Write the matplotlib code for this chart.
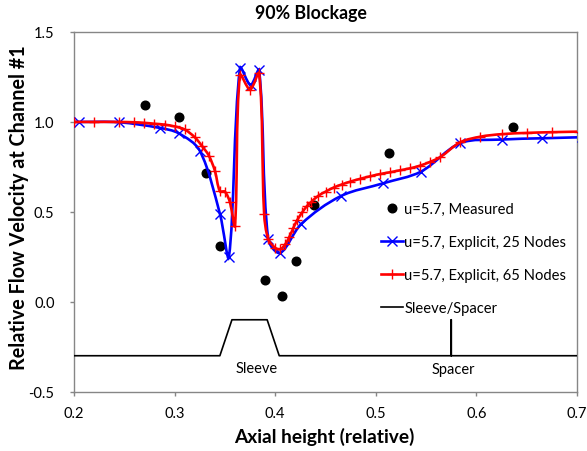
import matplotlib
matplotlib.use("Agg")
import matplotlib.pyplot as plt
import numpy as np
from matplotlib.path import Path
from matplotlib.patches import PathPatch
from matplotlib.lines import Line2D

plt.rcParams['font.family'] = ['Lato', 'DejaVu Sans']

# ---- data ----
meas_x = [0.2706, 0.3047, 0.3312, 0.3451, 0.3900, 0.4071, 0.4207, 0.4389, 0.5128, 0.6361]
meas_y = [1.096, 1.028, 0.718, 0.312, 0.120, 0.032, 0.229, 0.540, 0.826, 0.972]

n25_x = [0.195, 0.205, 0.245, 0.285, 0.304, 0.325, 0.345, 0.354, 0.365, 0.3755, 0.384,
         0.393, 0.405, 0.426, 0.465, 0.5075, 0.545, 0.584, 0.625, 0.665, 0.705]
n25_y = [1.000, 1.000, 0.998, 0.967, 0.937, 0.840, 0.490, 0.250, 1.300, 1.205, 1.288,
         0.349, 0.272, 0.433, 0.587, 0.659, 0.724, 0.882, 0.902, 0.909, 0.915]

n65_x = [0.200, 0.220, 0.245, 0.260, 0.270, 0.280, 0.290, 0.300, 0.310, 0.320, 0.327,
         0.334, 0.340, 0.345, 0.350, 0.355, 0.360, 0.365, 0.375, 0.384, 0.389, 0.393,
         0.400, 0.405, 0.410, 0.414, 0.418, 0.422, 0.427, 0.432, 0.436, 0.443, 0.450,
         0.458, 0.466, 0.474, 0.484, 0.494, 0.504, 0.514, 0.524, 0.534, 0.544, 0.554,
         0.564, 0.584, 0.604, 0.625, 0.650, 0.675, 0.702]
n65_y = [1.000, 1.000, 1.000, 0.998, 0.995, 0.990, 0.985, 0.975, 0.958, 0.915, 0.868,
         0.813, 0.729, 0.615, 0.612, 0.553, 0.423, 1.260, 1.180, 1.270, 0.490, 0.350,
         0.300, 0.292, 0.320, 0.360, 0.410, 0.455, 0.498, 0.535, 0.556, 0.590, 0.612,
         0.635, 0.652, 0.667, 0.683, 0.697, 0.710, 0.720, 0.731, 0.742, 0.757, 0.778,
         0.804, 0.887, 0.918, 0.932, 0.939, 0.943, 0.946]

sleeve_x = [0.2, 0.345, 0.357, 0.392, 0.404, 0.575, 0.575, 0.575, 0.7]
sleeve_y = [-0.3, -0.3, -0.1, -0.1, -0.3, -0.3, -0.1, -0.3, -0.3]

xticks = [0.2, 0.3, 0.4, 0.5, 0.6, 0.7]
yticks = [-0.5, 0.0, 0.5, 1.0, 1.5]

labels = ["u=5.7, Measured", "u=5.7, Explicit, 25 Nodes",
          "u=5.7, Explicit, 65 Nodes", "Sleeve/Spacer"]


def smooth_path(ax, xs, ys, t=1.0 / 3.0):
    """Excel-like smoothed line: Bezier segments with length-weighted tangents
    (computed in display space so that the curve does not overshoot)."""
    data = np.column_stack([xs, ys]).astype(float)
    disp = ax.transData.transform(data)
    n = len(disp)
    verts = [disp[0]]
    codes = [Path.MOVETO]
    seg = np.hypot(*np.diff(disp, axis=0).T)
    for i in range(n - 1):
        p1, p2 = disp[i], disp[i + 1]
        l12 = seg[i]
        if i > 0:
            l01 = seg[i - 1]
            c1 = p1 + (p2 - disp[i - 1]) * t * l12 / max(l01 + l12, 1e-9)
        else:
            c1 = p1
        if i + 2 < n:
            l23 = seg[i + 1]
            c2 = p2 - (disp[i + 2] - p1) * t * l12 / max(l12 + l23, 1e-9)
        else:
            c2 = p2
        verts += [c1, c2, p2]
        codes += [Path.CURVE4] * 3
    verts = ax.transData.inverted().transform(np.array(verts))
    return Path(verts, codes)


fig = plt.figure(figsize=(5.87, 4.52), dpi=100)
ax = fig.add_axes([74 / 587, 1 - 392.7 / 452, 503 / 587, 359.7 / 452])
ax.set_xlim(0.2, 0.7)
ax.set_ylim(-0.5, 1.5)

ax.plot(meas_x, meas_y, ls='none', marker='o', color='black', ms=6.2, zorder=3)

ax.add_patch(PathPatch(smooth_path(ax, n25_x, n25_y), fill=False, edgecolor='#0000ff',
                       lw=1.9, zorder=4))
ax.plot(n25_x, n25_y, ls='none', marker='x', color='#0000ff', ms=6.5, mew=1.0, zorder=4)

ax.add_patch(PathPatch(smooth_path(ax, n65_x, n65_y), fill=False, edgecolor='#ff0000',
                       lw=1.9, zorder=5))
ax.plot(n65_x, n65_y, ls='none', marker='+', color='#ff0000', ms=6.5, mew=1.0, zorder=5)

ax.plot(sleeve_x, sleeve_y, color='black', lw=1.2, zorder=6)

ax.text(0.382, -0.368, "Sleeve", ha='center', va='center', fontsize=10.5)
ax.text(0.5767, -0.373, "Spacer", ha='center', va='center', fontsize=10.5)

ax.set_xticks(xticks)
ax.set_yticks(yticks)
ax.set_xticklabels([f"{v:.1f}" for v in xticks])
ax.set_yticklabels([f"{v:.1f}" for v in yticks])
for s in ax.spines.values():
    s.set_color('#868686')
    s.set_linewidth(1.0)
ax.tick_params(axis='both', direction='out', length=3, width=1.0, color='#868686',
               labelsize=10.5, labelcolor='black')
ax.tick_params(axis='y', pad=11)
ax.tick_params(axis='x', pad=7)

handles = [
    Line2D([], [], ls='none', marker='o', color='black', ms=6.2),
    Line2D([], [], color='#0000ff', lw=1.9, marker='x', ms=6.5, mew=1.0),
    Line2D([], [], color='#ff0000', lw=1.9, marker='+', ms=6.5, mew=1.0),
    Line2D([], [], color='black', lw=1.2),
]
fs_leg = 10.6
fs_px = fs_leg * 100 / 72
ax.legend(handles, labels, loc='upper left', bbox_to_anchor=(380.7 / 587, 1 - 203 / 452),
          bbox_transform=fig.transFigure, frameon=False, fontsize=fs_leg, borderpad=0,
          borderaxespad=0, handlelength=22 / fs_px, handletextpad=1.5 / fs_px,
          labelspacing=1.3)

fig.text(311 / 587, 1 - 14 / 452, "90% Blockage", ha='center', va='center',
         fontsize=12.8, fontweight='bold')
fig.text(19 / 587, 1 - 208 / 452, "Relative Flow Velocity at Channel #1", ha='center',
         va='center', rotation=90, fontsize=14.2, fontweight='bold')
fig.text(324 / 587, 1 - 437 / 452, "Axial height (relative)", ha='center', va='center',
         fontsize=13.8, fontweight='bold')

fig.savefig("out.png", dpi=100)
